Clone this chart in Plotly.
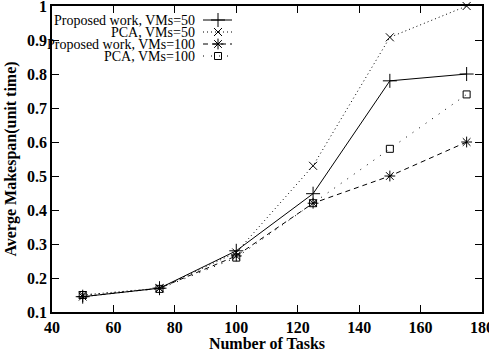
import plotly.graph_objects as go

tasks = [50, 75, 100, 125, 150, 175]
proposed_50 = [0.145, 0.17, 0.28, 0.448, 0.78, 0.80]
pca_50 = [0.15, 0.17, 0.275, 0.53, 0.908, 1.0]
proposed_100 = [0.145, 0.17, 0.265, 0.42, 0.50, 0.60]
pca_100 = [0.15, 0.168, 0.26, 0.42, 0.58, 0.74]
series_names = ["Proposed work, VMs=50", "PCA, VMs=50", "Proposed work, VMs=100", "PCA, VMs=100"]
x_ticks = [40, 60, 80, 100, 120, 140, 160, 180]
x_labels = ["40", "60", "80", "100", "120", "140", "160", "180"]
y_ticks = [0.1, 0.2, 0.3, 0.4, 0.5, 0.6, 0.7, 0.8, 0.9, 1.0]
y_labels = ["0.1", "0.2", "0.3", "0.4", "0.5", "0.6", "0.7", "0.8", "0.9", "1"]

FONT = "Liberation Serif"
styles = [
    dict(dash="solid", symbol="cross-thin-open", size=10),
    dict(dash="1px,3px", symbol="x-thin-open", size=8),
    dict(dash="5px,4px", symbol="asterisk-open", size=9),
    dict(dash="1px,7px", symbol="square-open", size=7),
]
data = [proposed_50, pca_50, proposed_100, pca_100]

fig = go.Figure()
for name, ys, st in zip(series_names, data, styles):
    fig.add_trace(go.Scatter(
        x=tasks, y=ys, mode="lines+markers", name=name, showlegend=False,
        line=dict(color="black", width=1, dash=st["dash"]),
        marker=dict(symbol=st["symbol"], size=st["size"], color="black",
                    line=dict(color="black", width=1)),
        cliponaxis=False,
    ))

# custom legend (gnuplot-style: text right-aligned, sample to the right)
L, R, T, B = 52, 482, 6, 312
rows = [20, 32, 44, 56]
for name, st, yy in zip(series_names, styles, rows):
    fig.add_trace(go.Scatter(
        x=[203, 218, 232], y=[yy, yy, yy], xaxis="x2", yaxis="y2",
        mode="lines", showlegend=False, hoverinfo="skip",
        line=dict(color="black", width=1, dash=st["dash"]),
    ))
    fig.add_trace(go.Scatter(
        x=[218], y=[yy], xaxis="x2", yaxis="y2", mode="markers",
        showlegend=False, hoverinfo="skip",
        marker=dict(symbol=st["symbol"], size=st["size"], color="black",
                    line=dict(color="black", width=1)),
    ))
    fig.add_annotation(x=197, y=yy, xref="x2", yref="y2", text=name,
                       showarrow=False, xanchor="right", yanchor="middle",
                       font=dict(family=FONT, size=14, color="black"))

axis_common = dict(showgrid=False, zeroline=False, showline=True, linecolor="black",
                   linewidth=1.5, mirror="ticks", ticks="inside", ticklen=7,
                   tickcolor="black", tickwidth=1, automargin=False,
                   ticklabeloverflow="allow",
                   tickfont=dict(family=FONT, size=16, color="black", weight="bold"))
fig.update_layout(
    width=489, height=352,
    margin=dict(l=L, r=489 - R, t=T, b=352 - B),
    paper_bgcolor="white", plot_bgcolor="white",
    xaxis=dict(range=[40, 180.001], tickvals=x_ticks, ticktext=x_labels, **axis_common,
               title=dict(text="Number of Tasks", standoff=2,
                          font=dict(family=FONT, size=16, color="black", weight="bold"))),
    yaxis=dict(range=[0.1, 1.0001], tickvals=y_ticks, ticktext=y_labels, **axis_common,
               title=dict(text="Averge Makespan(unit time)", standoff=6,
                          font=dict(family=FONT, size=16, color="black", weight="bold"))),
    xaxis2=dict(range=[L, R], overlaying="x", anchor="y2", visible=False),
    yaxis2=dict(range=[B, T], overlaying="y", anchor="x2", visible=False),
)
fig.write_html("out.html")
